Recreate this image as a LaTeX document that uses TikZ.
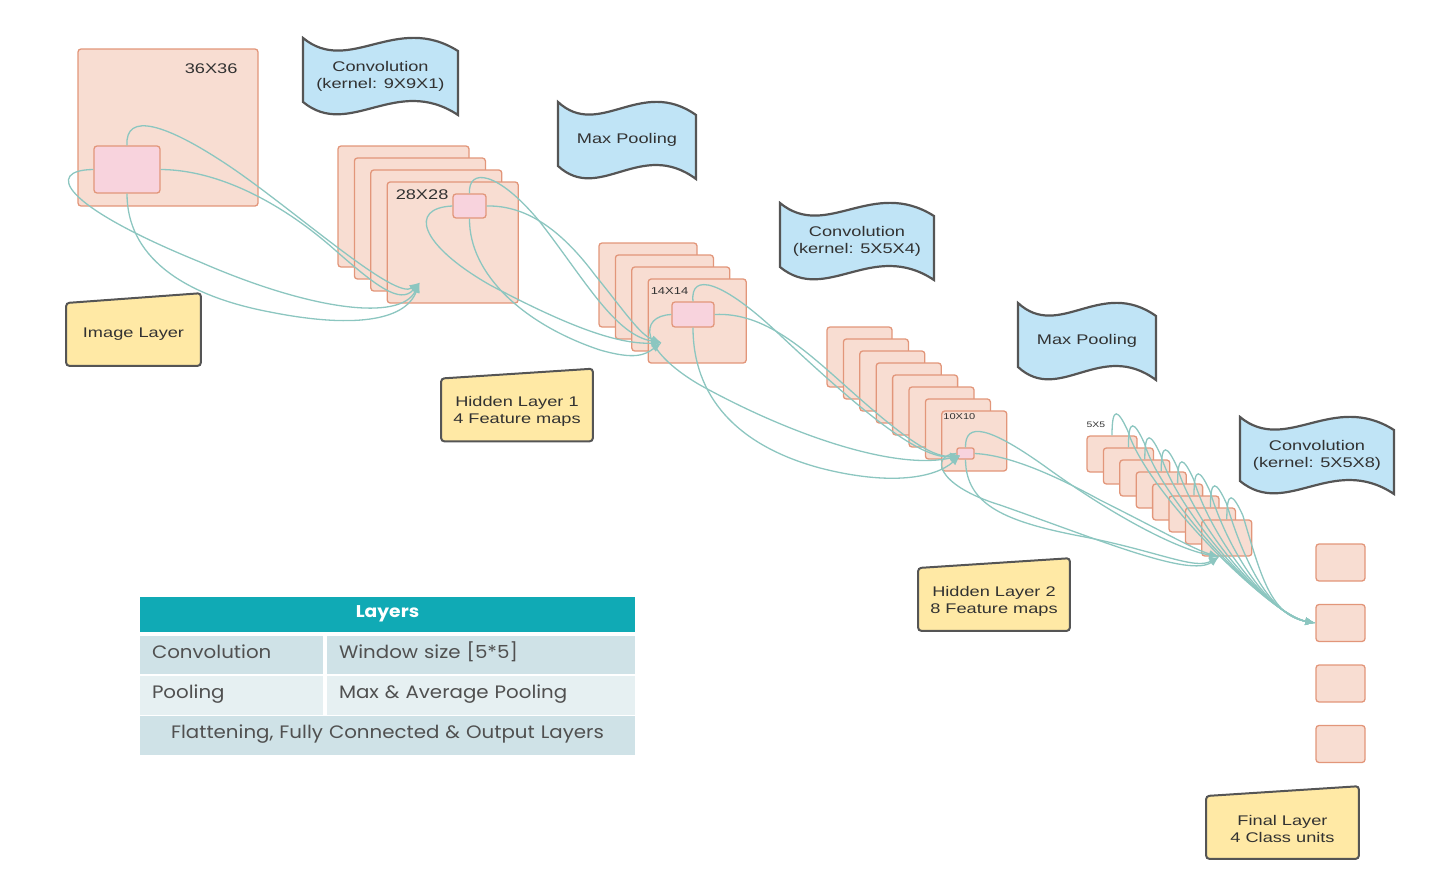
\documentclass[tikz,border=0pt]{standalone}
\usepackage{fontspec}
\setmainfont{Liberation Sans}[FakeStretch=1.3]
\newfontfamily\tablefont{Poppins}[FakeStretch=1.1]
\usepackage{tikz}
\usetikzlibrary{arrows.meta}

\definecolor{mapfill}{RGB}{248,221,210}
\definecolor{mapline}{RGB}{226,150,122}
\definecolor{winfill}{RGB}{248,211,221}
\definecolor{flagfill}{RGB}{192,228,246}
\definecolor{edgegray}{RGB}{85,85,85}
\definecolor{tagfill}{RGB}{255,233,165}
\definecolor{linkteal}{RGB}{140,198,192}
\definecolor{headteal}{RGB}{16,170,181}
\definecolor{rowdark}{RGB}{207,226,231}
\definecolor{rowlight}{RGB}{230,240,242}
\definecolor{inkgray}{RGB}{50,50,50}
\definecolor{cellgray}{RGB}{80,80,80}

\begin{document}
\begin{tikzpicture}[x=1pt, y=-1pt, node distance=16.4pt]

    \tikzstyle{fmap} = [rectangle, rounded corners=3pt, draw=mapline, fill=mapfill, line width=1.3pt, inner sep=0pt]
    \tikzstyle{fmapA} = [fmap, minimum width=131pt, minimum height=121pt]
    \tikzstyle{fmapB} = [fmap, minimum width=98pt, minimum height=84pt]
    \tikzstyle{fmapC} = [fmap, minimum width=65pt, minimum height=60pt]
    \tikzstyle{fmapD} = [fmap, minimum width=50pt, minimum height=36pt]
    \tikzstyle{unit} = [fmap, minimum width=49pt, minimum height=37pt]
    \tikzstyle{window} = [fmap, fill=winfill]
    \tikzstyle{dimtext} = [text=inkgray, inner sep=1pt]
    % wavy banner, #1 = width of the wave
    \tikzset{flag/.style={minimum width=#1pt+4pt, minimum height=89pt, inner sep=0pt, align=center, text=inkgray, font=\fontsize{14}{17}\selectfont,
        path picture={\draw[fill=flagfill, draw=edgegray, line width=2.2pt]
            ([shift={(2pt,-6.5pt)}]path picture bounding box.north west)
            .. controls ([shift={(0.3*#1pt+2pt,-44.5pt)}]path picture bounding box.north west)
            and ([shift={(0.6*#1pt+2pt,19.5pt)}]path picture bounding box.north west)
            .. ([shift={(#1pt+2pt,-19.5pt)}]path picture bounding box.north west)
            -- ([shift={(#1pt+2pt,-83.5pt)}]path picture bounding box.north west)
            .. controls ([shift={(0.6*#1pt+2pt,-42.5pt)}]path picture bounding box.north west)
            and ([shift={(0.3*#1pt+2pt,-108.5pt)}]path picture bounding box.north west)
            .. ([shift={(2pt,-70.5pt)}]path picture bounding box.north west) -- cycle;}}}
    \tikzstyle{tag} = [minimum height=75pt, inner sep=0pt, align=center, text=inkgray, font=\fontsize{14}{17}\selectfont,
        path picture={\draw[fill=tagfill, draw=edgegray, line width=2pt, rounded corners=3pt]
            ([shift={(1.2pt,1.2pt)}]path picture bounding box.south west) -- ([shift={(1.2pt,-11pt)}]path picture bounding box.north west)
            -- ([shift={(-1.2pt,-1.2pt)}]path picture bounding box.north east) -- ([shift={(-1.2pt,1.2pt)}]path picture bounding box.south east) -- cycle;}]
    \tikzstyle{link} = [draw=linkteal, line width=1.3pt, -{Latex[length=10pt, width=8pt]}]
    \tikzstyle{cell} = [rectangle, draw=white, line width=1.5pt, inner xsep=13pt, inner ysep=0pt, text height=13pt, text depth=7pt, text=cellgray, font=\tablefont\fontsize{18}{21}\selectfont]

    \useasboundingbox (0,0) rectangle (1430,889);

    % input image
    \node (img) [fmap, minimum width=180pt, minimum height=157pt] at (168,127.5) {};
    \node [dimtext, anchor=north east, font=\fontsize{14}{16}\selectfont] at ([shift={(-20,14)}]img.north east) {36X36};
    \node (pk0) [window, minimum width=66pt, minimum height=47pt] at (127,169.5) {};

    % first convolution: 4 maps
    \node (s1a) [fmapA] at (403.5,206.5) {};
    \node (s1b) [fmapA, right of=s1a, yshift=-12pt] {};
    \node (s1c) [fmapA, right of=s1b, yshift=-12pt] {};
    \node (s1d) [fmapA, right of=s1c, yshift=-12pt] {};
    \node [dimtext, anchor=north west, font=\fontsize{14}{16}\selectfont] at ([shift={(8,7.5)}]s1d.north west) {28X28};
    \node (pk1) [window, minimum width=33pt, minimum height=24pt] at (469.5,206) {};

    % pooling: 4 maps
    \node (s2a) [fmapB] at (648,285) {};
    \node (s2b) [fmapB, right of=s2a, yshift=-12pt] {};
    \node (s2c) [fmapB, right of=s2b, yshift=-12pt] {};
    \node (s2d) [fmapB, right of=s2c, yshift=-12pt] {};
    \node [dimtext, anchor=north west, font=\fontsize{10}{12}\selectfont] at ([shift={(2,8)}]s2d.north west) {14X14};
    \node (pk2) [window, minimum width=42pt, minimum height=25pt] at (693,314.5) {};

    % second convolution: 8 maps
    \node (s3a) [fmapC] at (859.5,357) {};
    \node (s3b) [fmapC, right of=s3a, yshift=-12pt] {};
    \node (s3c) [fmapC, right of=s3b, yshift=-12pt] {};
    \node (s3d) [fmapC, right of=s3c, yshift=-12pt] {};
    \node (s3e) [fmapC, right of=s3d, yshift=-12pt] {};
    \node (s3f) [fmapC, right of=s3e, yshift=-12pt] {};
    \node (s3g) [fmapC, right of=s3f, yshift=-12pt] {};
    \node (s3h) [fmapC, right of=s3g, yshift=-12pt] {};
    \node [dimtext, anchor=north west, font=\fontsize{8.5}{10}\selectfont] at ([shift={(1,2)}]s3h.north west) {10X10};
    \node (pk3) [window, minimum width=17pt, minimum height=11pt, rounded corners=2pt] at (965.5,453.5) {};

    % pooling: 8 maps
    \node (s4a) [fmapD] at (1112,454) {};
    \node (s4b) [fmapD, right of=s4a, yshift=-12pt] {};
    \node (s4c) [fmapD, right of=s4b, yshift=-12pt] {};
    \node (s4d) [fmapD, right of=s4c, yshift=-12pt] {};
    \node (s4e) [fmapD, right of=s4d, yshift=-12pt] {};
    \node (s4f) [fmapD, right of=s4e, yshift=-12pt] {};
    \node (s4g) [fmapD, right of=s4f, yshift=-12pt] {};
    \node (s4h) [fmapD, right of=s4g, yshift=-12pt] {};
    \node [dimtext, anchor=base west, font=\fontsize{8}{10}\selectfont] at ([shift={(-1,-8)}]s4a.north west) {5X5};

    % output units
    \node (fin1) [unit] at (1340.5,562.5) {};
    \node (fin2) [unit, below of=fin1, node distance=60.5pt] {};
    \node (fin3) [unit, below of=fin2, node distance=60.5pt] {};
    \node (fin4) [unit, below of=fin3, node distance=60.5pt] {};

    % operations
    \node (op1) [flag=155] at (380.5,76) {Convolution\\(kernel: 9X9X1)};
    \node (op2) [flag=138] at (627,140) {Max Pooling};
    \node (op3) [flag=154] at (857,241) {Convolution\\(kernel: 5X5X4)};
    \node (op4) [flag=138] at (1087,341) {Max Pooling};
    \node (op5) [flag=154] at (1317,455) {Convolution\\(kernel: 5X5X8)};

    % layer names
    \node (tag0) [tag, minimum width=137pt] at (133.5,329.5) {\\[2pt]Image Layer};
    \node (tag1) [tag, minimum width=154pt] at (517,405) {\\[6pt]Hidden Layer 1\\4 Feature maps};
    \node (tag2) [tag, minimum width=154pt] at (994,594.5) {\\[6pt]Hidden Layer 2\\8 Feature maps};
    \node (tag3) [tag, minimum width=155pt] at (1282.5,822.5) {\\[6pt]Final Layer\\4 Class units};

    % arrow ends
    \coordinate (t1) at ([shift={(33,-21)}]s1d.south west);
    \coordinate (t2) at ([shift={(14,-21)}]s2d.south west);
    \coordinate (t3) at ([shift={(19,-16)}]s3h.south west);
    \coordinate (t4) at ([shift={(18,0)}]s4h.south west);

    \draw [link] (pk0.west) .. controls (45,170) and (60,205) .. (200,262) .. controls (310,310) and (400,322) .. (t1);
    \draw [link] (pk0.south) .. controls (127,255) and (180,295) .. (270,312) .. controls (350,328) and (405,322) .. (t1);
    \draw [link] (pk0.north) .. controls (125,112) and (165,122) .. (235,170) .. controls (300,215) and (395,300) .. (t1);
    \draw [link] (pk0.east) .. controls (225,170) and (290,210) .. (335,250) .. controls (375,285) and (400,305) .. (t1);

    \draw [link] (pk1.west) .. controls (408,208) and (420,245) .. (490,285) .. controls (560,322) and (615,345) .. (t2);
    \draw [link] (pk1.north) .. controls (468,168) and (497,170) .. (540,222) .. controls (585,280) and (615,335) .. (t2);
    \draw [link] (pk1.east) .. controls (530,205) and (565,235) .. (595,275) .. controls (625,312) and (640,335) .. (t2);
    \draw [link] (pk1.south) .. controls (469,275) and (525,325) .. (600,350) .. controls (635,360) and (645,355) .. (t2);

    \draw [link] (pk2.west) .. controls (638,316) and (640,350) .. (700,385) .. controls (800,440) and (900,470) .. (t3);
    \draw [link] (pk2.north) .. controls (690,272) and (722,280) .. (780,335) .. controls (860,410) and (920,460) .. (t3);
    \draw [link] (pk2.east) .. controls (765,312) and (805,350) .. (850,390) .. controls (895,430) and (930,458) .. (t3);
    \draw [link] (pk2.south) .. controls (693,395) and (735,445) .. (820,468) .. controls (890,486) and (935,478) .. (t3);

    \draw [link] (pk3.north) .. controls (965,422) and (988,425) .. (1050,470) .. controls (1120,520) and (1180,550) .. (t4);
    \draw [link] (pk3.east) .. controls (1005,455) and (1045,470) .. (1100,500) .. controls (1160,530) and (1195,550) .. (t4);
    \draw [link] (pk3.south) .. controls (966,505) and (1005,522) .. (1085,537) .. controls (1160,552) and (1195,570) .. (t4);
    \draw [link] (pk3.west) .. controls (930,455) and (935,485) .. (1000,505) .. controls (1100,540) and (1190,578) .. (t4);

    \draw [link] (s4a.north) .. controls +(0,-30) and +(-10,-22) .. ++(16,-4) .. controls +(18,60) and +(-45,-8) .. (fin2.west);
    \draw [link] (s4b.north) .. controls +(0,-30) and +(-10,-22) .. ++(16,-4) .. controls +(18,60) and +(-45,-8) .. (fin2.west);
    \draw [link] (s4c.north) .. controls +(0,-30) and +(-10,-22) .. ++(16,-4) .. controls +(18,60) and +(-45,-8) .. (fin2.west);
    \draw [link] (s4d.north) .. controls +(0,-30) and +(-10,-22) .. ++(16,-4) .. controls +(18,60) and +(-45,-8) .. (fin2.west);
    \draw [link] (s4e.north) .. controls +(0,-30) and +(-10,-22) .. ++(16,-4) .. controls +(18,60) and +(-45,-8) .. (fin2.west);
    \draw [link] (s4f.north) .. controls +(0,-30) and +(-10,-22) .. ++(16,-4) .. controls +(18,60) and +(-45,-8) .. (fin2.west);
    \draw [link] (s4g.north) .. controls +(0,-30) and +(-10,-22) .. ++(16,-4) .. controls +(18,60) and +(-45,-8) .. (fin2.west);
    \draw [link] (s4h.north) .. controls +(0,-30) and +(-10,-22) .. ++(16,-4) .. controls +(18,60) and +(-45,-8) .. (fin2.west);

    % summary table
    \node (thead) [cell, fill=headteal, text=white, minimum width=497pt, minimum height=37pt, font=\tablefont\bfseries\fontsize{17}{20}\selectfont] at (387.5,614.5) {Layers};
    \node (r1a) [cell, fill=rowdark, text width=159pt, minimum height=40pt, align=left] at (231.5,655) {Convolution};
    \node (r1b) [cell, fill=rowdark, text width=284pt, minimum height=40pt, align=left] at (481,655) {Window size [5*5]};
    \node (r2a) [cell, fill=rowlight, text width=159pt, minimum height=40pt, align=left] at (231.5,695.5) {Pooling};
    \node (r2b) [cell, fill=rowlight, text width=284pt, minimum height=40pt, align=left] at (481,695.5) {Max \& Average Pooling};
    \node (r3) [cell, fill=rowdark, text width=471pt, minimum height=40pt, align=center] at (387.5,735.5) {Flattening, Fully Connected \& Output Layers};
\end{tikzpicture}
\end{document}
